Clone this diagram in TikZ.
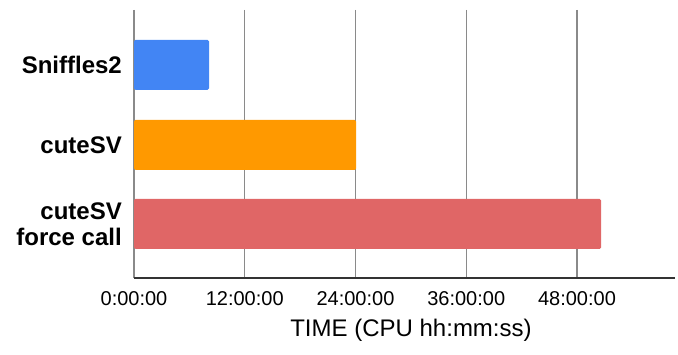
\documentclass[tikz,border=0pt]{standalone}
\usepackage{fontspec}
\setmainfont{Liberation Sans}
\usepackage{tikz}
\usetikzlibrary{positioning}
\definecolor{snifblue}{HTML}{4285F4}
\definecolor{cuteorange}{HTML}{FF9900}
\definecolor{forcered}{HTML}{E06666}
\definecolor{gridgray}{HTML}{8A8A8A}
\definecolor{axisgray}{HTML}{333333}
\tikzset{
  toollabel/.style={font=\fontsize{24}{25.5}\selectfont\bfseries, anchor=east, align=right, inner sep=0pt},
  ticklabel/.style={font=\fontsize{20}{24}\selectfont, inner sep=0pt},
  bar/.style={rounded corners=1.5pt}
}

\begin{document}
\begin{tikzpicture}[x=1pt,y=-1pt]
\useasboundingbox (0,0) rectangle (678,355);
% vertical grid, one line every 12 h
\foreach \i/\lab in {0/0:00:00, 1/12:00:00, 2/24:00:00, 3/36:00:00, 4/48:00:00} {
\draw[gridgray, line width=1.2pt] ({134+110.75*\i},10) -- ({134+110.75*\i},278);
\node[ticklabel] (tick\i) at ({134+110.75*\i},299) {\lab};
}
\draw[axisgray, line width=1.3pt] (134,278) -- (675,278);
% the three runs
\fill[snifblue, bar] (134,40) rectangle (209,90);
\fill[cuteorange, bar] (134,120) rectangle (356,170);
\fill[forcered, bar] (134,199) rectangle (601,249);
\node[toollabel] (snif) at (122,65) {Sniffles2};
\node[toollabel] (cute) at (122,145) {cuteSV};
\node[toollabel] (force) at (122,224) {cuteSV\\force call};
\node[font=\fontsize{24}{28}\selectfont, inner sep=0pt] (xtitle) at (411,330) {TIME (CPU hh:mm:ss)};
\end{tikzpicture}
\end{document}
